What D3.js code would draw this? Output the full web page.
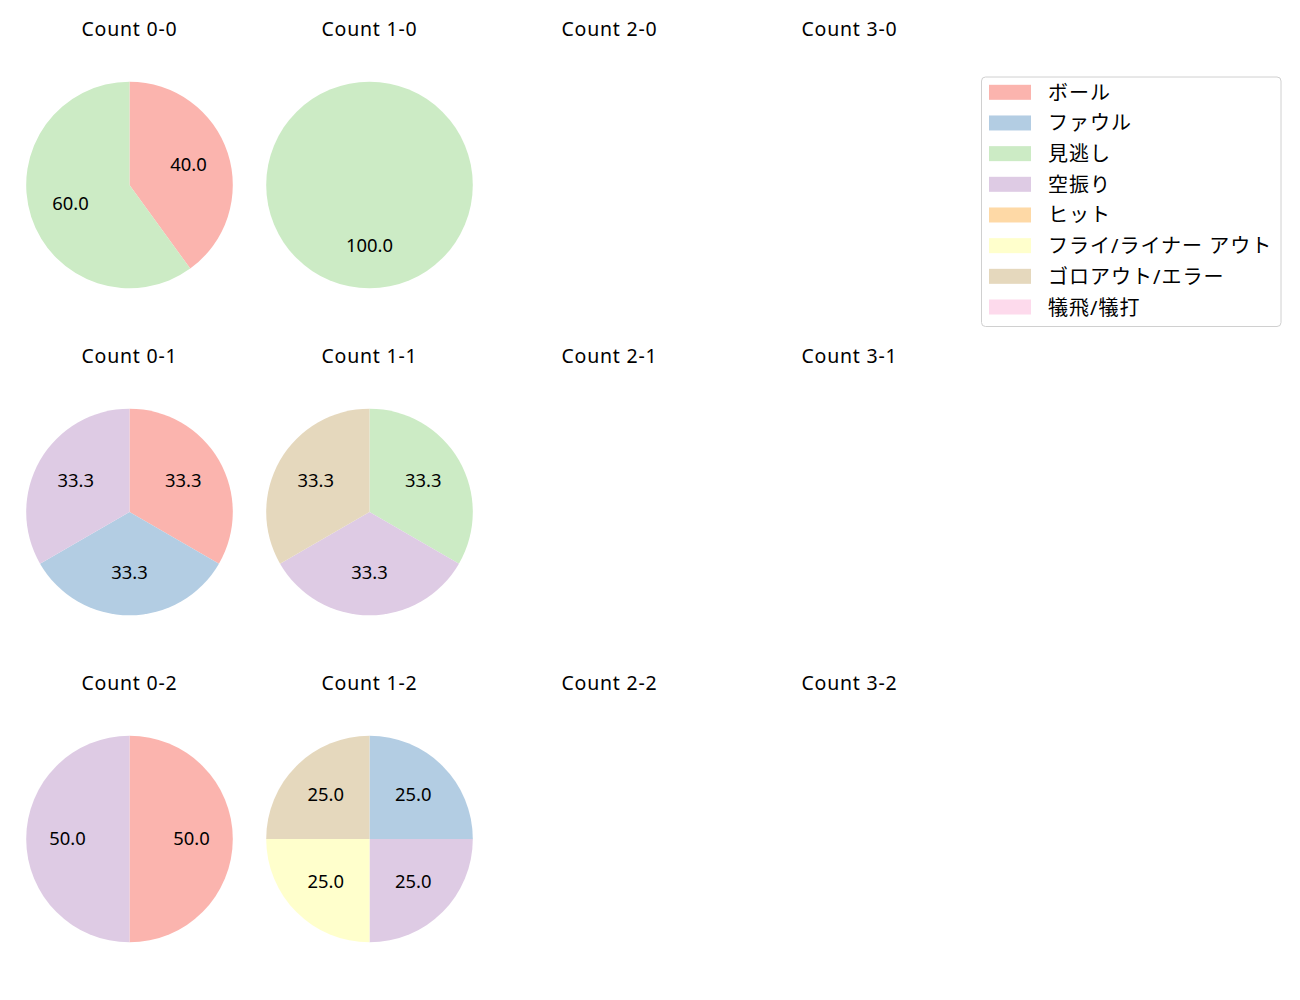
<!DOCTYPE html>
<html><head><meta charset="utf-8">
<script src="https://cdn.jsdelivr.net/npm/d3@7"></script>
<style>
html,body{margin:0;padding:0;background:#fff;}
text{font-family:"Noto Sans","Noto Sans CJK JP",sans-serif;fill:#000;}
</style></head>
<body><svg id="chart" width="1300" height="1000"></svg>
<script>
const categories = ["ボール","ファウル","見逃し","空振り","ヒット","フライ/ライナー アウト","ゴロアウト/エラー","犠飛/犠打"];
const colors = ["#fbb4ae","#b3cde3","#ccebc5","#decbe4","#fed9a6","#ffffcc","#e5d8bd","#fddaec"];
const countLabels = [
  ["0-0","1-0","2-0","3-0"],
  ["0-1","1-1","2-1","3-1"],
  ["0-2","1-2","2-2","3-2"]
];
// values per count, in category order
const v00 = [2,0,3,0,0,0,0,0];
const v10 = [0,0,1,0,0,0,0,0];
const v01 = [1,1,0,1,0,0,0,0];
const v11 = [0,0,1,1,0,0,1,0];
const v02 = [1,0,0,1,0,0,0,0];
const v12 = [0,1,0,1,0,1,1,0];
const countValues = {"0-0":v00,"1-0":v10,"0-1":v01,"1-1":v11,"0-2":v02,"1-2":v12};

const svg = d3.select("#chart");
const colX = d3.scaleLinear().domain([0,3]).range([129.5,849.5]);
const rowY = d3.scaleLinear().domain([0,2]).range([185,839]);
const R = 103.3;
const color = d3.scaleOrdinal().domain(categories).range(colors);
const pie = d3.pie().value(d=>d.v).sort(null);
const arc = d3.arc().innerRadius(0).outerRadius(R);

countLabels.forEach((row,ri)=>{
  row.forEach((lab,ci)=>{
    const cx = colX(ci), cy = rowY(ri);
    svg.append("text").attr("x",cx).attr("y",cy-157).attr("text-anchor","middle")
      .attr("dominant-baseline","central").style("font-size","19.5px")
      .style("letter-spacing","0.8px").text("Count "+lab);
    const vals = countValues[lab];
    if(!vals) return;
    const data = categories.map((c,i)=>({c, v: vals[i]})).filter(d=>d.v>0);
    const total = d3.sum(data,d=>d.v);
    const g = svg.append("g").attr("transform",`translate(${cx},${cy})`);
    const arcs = pie(data);
    g.selectAll("path").data(arcs).join("path").attr("d",arc).attr("fill",d=>color(d.data.c));
    g.selectAll("text").data(arcs).join("text")
      .attr("x",d=>{const a=(d.startAngle+d.endAngle)/2; return Math.sin(a)*R*0.6;})
      .attr("y",d=>{const a=(d.startAngle+d.endAngle)/2; return -Math.cos(a)*R*0.6 - 2;})
      .attr("text-anchor","middle").attr("dominant-baseline","central")
      .style("font-size","18.4px")
      .text(d=>(d.data.v/total*100).toFixed(1));
  });
});

// legend
const lg = svg.append("g");
lg.append("rect").attr("x",981.5).attr("y",77).attr("width",299.5).attr("height",249.5)
  .attr("rx",4).attr("fill","#fff").attr("stroke","#d0d0d0").attr("stroke-width",1);
const ly = d3.scaleLinear().domain([0,7]).range([92.3,307]);
categories.forEach((c,i)=>{
  lg.append("rect").attr("x",989).attr("y",ly(i)-7.5).attr("width",42).attr("height",15).attr("fill",color(c));
  lg.append("text").attr("x",1048).attr("y",ly(i)).attr("dominant-baseline","central")
    .style("font-size","20px").style("letter-spacing","1px").text(c);
});
</script></body></html>
